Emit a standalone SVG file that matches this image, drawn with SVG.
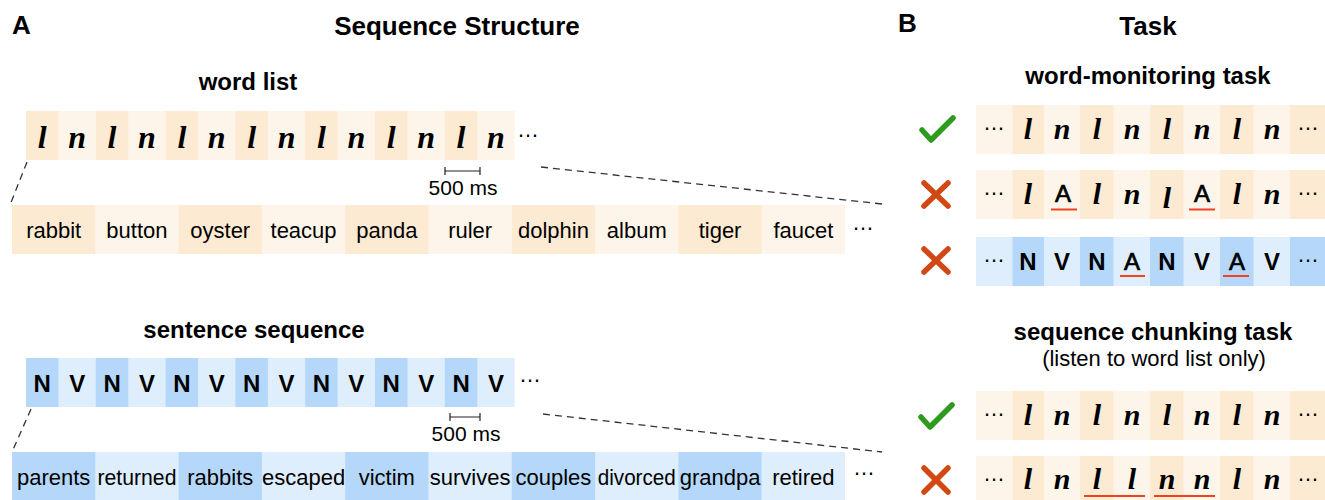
<svg xmlns="http://www.w3.org/2000/svg" width="1325" height="500" viewBox="0 0 1325 500">
<style>
text{font-family:"Liberation Sans",Arial,sans-serif;fill:#000}
.title{font-weight:bold;font-size:26px}
.sub{font-weight:bold;font-size:24px;text-anchor:middle}
.note{font-size:22px;text-anchor:middle}
.ms{font-size:21px;text-anchor:middle}
.ln{font-family:"Liberation Serif","Times New Roman",serif;font-style:italic;font-weight:bold;font-size:32px;text-anchor:middle}
.lnb{font-family:"Liberation Serif","Times New Roman",serif;font-style:italic;font-weight:bold;font-size:30px;text-anchor:middle}
.nv{font-weight:bold;font-size:24px;text-anchor:middle}
.a{font-size:24px;text-anchor:middle;stroke:#000;stroke-width:0.7}
.w{font-size:22px;text-anchor:middle}
.ell{font-size:22px;text-anchor:middle}
.od{fill:#FDEAD3}.ol{fill:#FEF5EA}.bd{fill:#B5D8FA}.bl{fill:#DEEEFD}
.dash{stroke:#333;stroke-width:1.3;stroke-dasharray:7 5;fill:none}
.bar{stroke:#222;stroke-width:1.2;fill:none}
.ul{stroke:#F0421E;stroke-width:2.2}
.check{stroke:#2E9B1F;stroke-width:5.5;fill:none;stroke-linecap:round;stroke-linejoin:round}
.cross{stroke:#D14815;stroke-width:5.5;stroke-linecap:round}
</style>

<g id="panel-A-header">
<text class="title" x="12" y="34">A</text>
<text class="title" x="457" y="35" text-anchor="middle">Sequence Structure</text>
</g>

<g id="word-list">
<text class="sub" x="248" y="90">word list</text>
<rect class="ol" x="26" y="111" width="488.6" height="49"/>
<rect class="od" x="26" y="111" width="32.5" height="49"/>
<rect class="od" x="95.8" y="111" width="32.5" height="49"/>
<rect class="od" x="165.6" y="111" width="32.5" height="49"/>
<rect class="od" x="235.4" y="111" width="32.5" height="49"/>
<rect class="od" x="305.2" y="111" width="32.5" height="49"/>
<rect class="od" x="375" y="111" width="32.5" height="49"/>
<rect class="od" x="444.8" y="111" width="32.5" height="49"/>
<text class="ln" y="148"><tspan x="42.25">l</tspan><tspan x="77.15">n</tspan><tspan x="112.05">l</tspan><tspan x="146.95">n</tspan><tspan x="181.85">l</tspan><tspan x="216.75">n</tspan><tspan x="251.65">l</tspan><tspan x="286.55">n</tspan><tspan x="321.45">l</tspan><tspan x="356.35">n</tspan><tspan x="391.25">l</tspan><tspan x="426.15">n</tspan><tspan x="461.05">l</tspan><tspan x="495.95">n</tspan></text>
<text class="ell" x="528" y="137">…</text>
<path class="bar" d="M445 171H480M445 167V175M480 167V175"/>
<text class="ms" x="463" y="195">500 ms</text>
</g>

<g id="word-list-words">
<rect class="ol" x="12" y="205" width="833" height="49"/>
<rect class="od" x="12" y="205" width="83.3" height="49"/>
<rect class="od" x="178.6" y="205" width="83.3" height="49"/>
<rect class="od" x="345.2" y="205" width="83.3" height="49"/>
<rect class="od" x="511.8" y="205" width="83.3" height="49"/>
<rect class="od" x="678.4" y="205" width="83.3" height="49"/>
<text class="w" y="238"><tspan x="53.65">rabbit</tspan><tspan x="136.95">button</tspan><tspan x="220.25">oyster</tspan><tspan x="303.55">teacup</tspan><tspan x="386.85">panda</tspan><tspan x="470.15">ruler</tspan><tspan x="553.45">dolphin</tspan><tspan x="636.75">album</tspan><tspan x="720.05">tiger</tspan><tspan x="803.35">faucet</tspan></text>
<text class="ell" x="863" y="230">…</text>
</g>

<g id="sentence-sequence">
<text class="sub" x="254" y="338">sentence sequence</text>
<rect class="bl" x="26" y="358" width="488.6" height="49"/>
<rect class="bd" x="26" y="358" width="32.5" height="49"/>
<rect class="bd" x="95.8" y="358" width="32.5" height="49"/>
<rect class="bd" x="165.6" y="358" width="32.5" height="49"/>
<rect class="bd" x="235.4" y="358" width="32.5" height="49"/>
<rect class="bd" x="305.2" y="358" width="32.5" height="49"/>
<rect class="bd" x="375" y="358" width="32.5" height="49"/>
<rect class="bd" x="444.8" y="358" width="32.5" height="49"/>
<text class="nv" y="392"><tspan x="42.25">N</tspan><tspan x="77.15">V</tspan><tspan x="112.05">N</tspan><tspan x="146.95">V</tspan><tspan x="181.85">N</tspan><tspan x="216.75">V</tspan><tspan x="251.65">N</tspan><tspan x="286.55">V</tspan><tspan x="321.45">N</tspan><tspan x="356.35">V</tspan><tspan x="391.25">N</tspan><tspan x="426.15">V</tspan><tspan x="461.05">N</tspan><tspan x="495.95">V</tspan></text>
<text class="ell" x="530" y="382">…</text>
<path class="bar" d="M450 417H480M450 413V421M480 413V421"/>
<text class="ms" x="466" y="441">500 ms</text>
</g>

<g id="sentence-words">
<rect class="bl" x="12" y="452" width="833" height="49"/>
<rect class="bd" x="12" y="452" width="83.3" height="49"/>
<rect class="bd" x="178.6" y="452" width="83.3" height="49"/>
<rect class="bd" x="345.2" y="452" width="83.3" height="49"/>
<rect class="bd" x="511.8" y="452" width="83.3" height="49"/>
<rect class="bd" x="678.4" y="452" width="83.3" height="49"/>
<text class="w" y="485"><tspan x="53.65">parents</tspan><tspan x="220.25">rabbits</tspan><tspan x="303.55">escaped</tspan><tspan x="386.85">victim</tspan><tspan x="470.15">survives</tspan><tspan x="553.45">couples</tspan><tspan x="720.05">grandpa</tspan><tspan x="803.35">retired</tspan></text>
<text class="w" x="136.95" y="485" textLength="79" lengthAdjust="spacingAndGlyphs">returned</text>
<text class="w" x="636.75" y="485" textLength="78" lengthAdjust="spacingAndGlyphs">divorced</text>
<text class="ell" x="864" y="475">…</text>
</g>

<g id="connectors">
<path class="dash" d="M27 162L10 205"/>
<path class="dash" d="M541 167L882 204"/>
<path class="dash" d="M31 409L12 452"/>
<path class="dash" d="M543 414L882 452"/>
</g>

<g id="panel-B-header">
<text class="title" x="898" y="32">B</text>
<text class="title" x="1148" y="35" text-anchor="middle">Task</text>
<text class="sub" x="1148" y="84">word-monitoring task</text>
</g>

<g id="task-row-1">
<path class="check" d="M922 130L931 140L953 118"/>
<rect class="ol" x="976" y="105" width="349" height="49"/>
<rect class="od" x="1012.5" y="105" width="31.5" height="49"/>
<rect class="od" x="1080" y="105" width="33.5" height="49"/>
<rect class="od" x="1150" y="105" width="33.5" height="49"/>
<rect class="od" x="1220" y="105" width="33.5" height="49"/>
<rect class="od" x="1290" y="105" width="35" height="49"/>
<text class="ell" x="994" y="130">…</text>
<text class="lnb" y="139"><tspan x="1028">l</tspan><tspan x="1062">n</tspan><tspan x="1097">l</tspan><tspan x="1132">n</tspan><tspan x="1167">l</tspan><tspan x="1202">n</tspan><tspan x="1237">l</tspan><tspan x="1272">n</tspan></text>
<text class="ell" x="1308" y="130">…</text>
</g>

<g id="task-row-2">
<path class="cross" d="M924 183L948 206M948 183L924 206"/>
<rect class="ol" x="976" y="170" width="349" height="49"/>
<rect class="od" x="1012.5" y="170" width="31.5" height="49"/>
<rect class="od" x="1080" y="170" width="33.5" height="49"/>
<rect class="od" x="1150" y="170" width="33.5" height="49"/>
<rect class="od" x="1220" y="170" width="33.5" height="49"/>
<rect class="od" x="1290" y="170" width="35" height="49"/>
<text class="ell" x="994" y="195">…</text>
<text class="lnb" y="204"><tspan x="1028">l</tspan><tspan x="1097">l</tspan><tspan x="1132">n</tspan><tspan x="1167" dy="4">l</tspan><tspan x="1237" dy="-4">l</tspan><tspan x="1272">n</tspan></text>
<text class="a" y="202"><tspan x="1063">A</tspan><tspan x="1202">A</tspan></text>
<path class="ul" d="M1051 209.5H1077M1189 209.5H1215"/>
<text class="ell" x="1308" y="195">…</text>
</g>

<g id="task-row-3">
<path class="cross" d="M924 249L948 272M948 249L924 272"/>
<rect class="bl" x="976" y="237" width="349" height="49"/>
<rect class="bd" x="1012.5" y="237" width="31.5" height="49"/>
<rect class="bd" x="1080" y="237" width="33.5" height="49"/>
<rect class="bd" x="1150" y="237" width="33.5" height="49"/>
<rect class="bd" x="1220" y="237" width="33.5" height="49"/>
<rect class="bd" x="1290" y="237" width="35" height="49"/>
<text class="ell" x="994" y="262">…</text>
<text class="nv" y="270"><tspan x="1028">N</tspan><tspan x="1062">V</tspan><tspan x="1097">N</tspan><tspan x="1167">N</tspan><tspan x="1202">V</tspan><tspan x="1272">V</tspan></text>
<text class="a" y="270"><tspan x="1132">A</tspan><tspan x="1237">A</tspan></text>
<path class="ul" d="M1120 276H1145M1223 276H1249"/>
<text class="ell" x="1308" y="262">…</text>
</g>

<g id="chunking-header">
<text class="sub" x="1153" y="340">sequence chunking task</text>
<text class="note" x="1154" y="366">(listen to word list only)</text>
</g>

<g id="task-row-4">
<path class="check" d="M921 417L930 427L952 405"/>
<rect class="ol" x="976" y="391" width="349" height="49"/>
<rect class="od" x="1012.5" y="391" width="31.5" height="49"/>
<rect class="od" x="1080" y="391" width="33.5" height="49"/>
<rect class="od" x="1150" y="391" width="33.5" height="49"/>
<rect class="od" x="1220" y="391" width="33.5" height="49"/>
<rect class="od" x="1290" y="391" width="35" height="49"/>
<text class="ell" x="994" y="416">…</text>
<text class="lnb" y="425"><tspan x="1028">l</tspan><tspan x="1062">n</tspan><tspan x="1097">l</tspan><tspan x="1132">n</tspan><tspan x="1167">l</tspan><tspan x="1202">n</tspan><tspan x="1237">l</tspan><tspan x="1272">n</tspan></text>
<text class="ell" x="1308" y="416">…</text>
</g>

<g id="task-row-5">
<path class="cross" d="M924 468L948 492M948 468L924 492"/>
<rect class="ol" x="976" y="456" width="349" height="49"/>
<rect class="od" x="1012.5" y="456" width="31.5" height="49"/>
<rect class="od" x="1080" y="456" width="33.5" height="49"/>
<rect class="od" x="1150" y="456" width="33.5" height="49"/>
<rect class="od" x="1220" y="456" width="33.5" height="49"/>
<rect class="od" x="1290" y="456" width="35" height="49"/>
<text class="ell" x="994" y="481">…</text>
<text class="lnb" y="489"><tspan x="1028">l</tspan><tspan x="1062">n</tspan><tspan x="1097">l</tspan><tspan x="1132">l</tspan><tspan x="1167">n</tspan><tspan x="1202">n</tspan><tspan x="1237">l</tspan><tspan x="1272">n</tspan></text>
<path class="ul" d="M1084 496H1145M1154 496H1215"/>
<text class="ell" x="1308" y="481">…</text>
</g>
</svg>
